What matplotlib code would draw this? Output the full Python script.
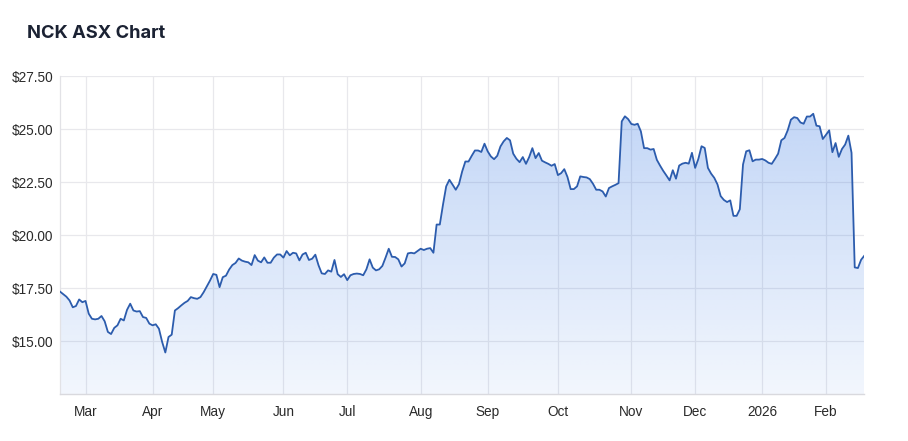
import numpy as np
import pandas as pd
import matplotlib
matplotlib.use("Agg")
import matplotlib.pyplot as plt
from matplotlib.patches import Polygon

# ---------------- data ----------------
start_date = "2025-02-19"
end_date = "2026-02-18"
holidays = ["2025-04-18", "2025-04-21", "2025-04-25", "2025-06-09",
            "2025-12-25", "2025-12-26", "2026-01-01", "2026-01-26"]

prices = [
    17.34, 17.22, 17.10, 16.92, 16.60, 16.66, 16.97, 16.84, 16.90, 16.30,
    16.06, 16.03, 16.06, 16.19, 15.94, 15.44, 15.34, 15.63, 15.75, 16.06,
    15.98, 16.48, 16.77, 16.45, 16.40, 16.42, 16.14, 16.10, 15.83, 15.75,
    15.80, 15.59, 14.97, 14.47, 15.20, 15.31, 16.45, 16.56, 16.69, 16.81,
    16.90, 17.08, 17.03, 17.00, 17.08, 17.31, 17.59, 17.86, 18.17, 18.13,
    17.55, 18.02, 18.09, 18.38, 18.59, 18.69, 18.90, 18.80, 18.75, 18.72,
    18.59, 19.06, 18.80, 18.72, 18.95, 18.70, 18.70, 18.94, 19.09, 19.09,
    18.94, 19.25, 19.05, 19.17, 19.14, 18.81, 19.09, 19.17, 18.83, 18.89,
    19.08, 18.58, 18.20, 18.17, 18.34, 18.28, 18.83, 18.16, 18.03, 18.16,
    17.88, 18.11, 18.17, 18.19, 18.17, 18.11, 18.39, 18.86, 18.47, 18.34,
    18.39, 18.55, 18.94, 19.36, 18.98, 18.97, 18.86, 18.52, 18.67, 19.14,
    19.17, 19.14, 19.25, 19.36, 19.30, 19.36, 19.39, 19.17, 20.50, 20.50,
    21.44, 22.30, 22.61, 22.38, 22.14, 22.40, 23.00, 23.47, 23.47, 23.74,
    23.99, 23.99, 23.92, 24.31, 23.95, 23.71, 23.58, 23.74, 24.18, 24.42,
    24.58, 24.47, 23.84, 23.60, 23.44, 23.68, 23.36, 23.68, 24.10, 23.63,
    23.87, 23.51, 23.43, 23.36, 23.27, 23.35, 22.83, 22.92, 23.11, 22.74,
    22.17, 22.17, 22.30, 22.77, 22.74, 22.72, 22.64, 22.42, 22.14, 22.14,
    22.06, 21.82, 22.22, 22.30, 22.37, 22.45, 25.36, 25.60, 25.47, 25.24,
    25.20, 25.25, 24.89, 24.10, 24.10, 24.03, 24.06, 23.55, 23.28, 23.03,
    22.81, 22.58, 23.06, 22.66, 23.28, 23.37, 23.41, 23.37, 23.88, 23.17,
    23.59, 24.19, 24.11, 23.17, 22.90, 22.70, 22.39, 21.84, 21.66, 21.56,
    21.64, 20.91, 20.91, 21.22, 23.33, 23.95, 24.00, 23.48, 23.56, 23.56,
    23.59, 23.52, 23.41, 23.36, 23.59, 23.84, 24.47, 24.58, 24.94, 25.44,
    25.56, 25.52, 25.31, 25.25, 25.59, 25.59, 25.72, 25.16, 25.13, 24.53,
    24.73, 24.94, 23.91, 24.34, 23.69, 24.06, 24.27, 24.69, 23.88, 18.48,
    18.45, 18.84, 19.03,
]

y_ticks = [15.0, 17.5, 20.0, 22.5, 25.0, 27.5]
title = "NCK ASX Chart"

# ---------------- derived ----------------
dates = pd.bdate_range(start_date, end_date)
dates = dates[~dates.isin(pd.to_datetime(holidays))]
n = min(len(dates), len(prices))
dates = dates[:n]
y = np.array(prices[:n])
x = np.arange(n)

tick_pos, tick_lab = [], []
for i in range(1, n):
    if dates[i].month != dates[i - 1].month:
        tick_pos.append(i)
        tick_lab.append(str(dates[i].year) if dates[i].month == 1 else dates[i].strftime("%b"))

# ---------------- plot ----------------
fig = plt.figure(figsize=(9.08, 4.41), dpi=100)
ax = fig.add_axes([60 / 908, 1 - 394.3 / 441, 804.3 / 908, 318.3 / 441])

ymin, ymax = 12.5, 27.5
ax.set_xlim(0, n - 1)
ax.set_ylim(ymin, ymax)

# grid
grid_c = "#e8e8ec"
for t in y_ticks:
    ax.axhline(t, color=grid_c, lw=0.9, zorder=0)
for p in tick_pos:
    ax.axvline(p, color=grid_c, lw=0.9, zorder=0)

# gradient fill
base = np.array([40, 110, 225]) / 255.0
H = 300
alpha = np.linspace(0.06, 0.31, H)[:, None]
img = np.zeros((H, 2, 4))
img[..., :3] = base
img[..., 3] = alpha
im = ax.imshow(img, extent=[0, n - 1, ymin, ymax], origin="lower",
               aspect="auto", zorder=1, interpolation="bilinear")
verts = np.vstack([[0, ymin], np.column_stack([x, y]), [n - 1, ymin]])
poly = Polygon(verts, closed=True, facecolor="none", edgecolor="none",
               transform=ax.transData)
ax.add_patch(poly)
im.set_clip_path(poly)

ax.plot(x, y, color="#2c5cad", lw=1.3, zorder=3, solid_joinstyle="round")

# spines
for s in ["top", "right"]:
    ax.spines[s].set_visible(False)
ax.spines["left"].set_color("#e2e2e6")
ax.spines["left"].set_linewidth(0.9)
ax.spines["bottom"].set_color("#d9d9de")
ax.spines["bottom"].set_linewidth(1.0)

tick_font = "Liberation Sans"
ax.set_yticks(y_ticks)
ax.set_yticklabels([f"${v:.2f}" for v in y_ticks], fontsize=9.8,
                   color="#2a2a2a", family=tick_font)
ax.set_xticks(tick_pos)
ax.set_xticklabels(tick_lab, fontsize=9.8, color="#2a2a2a", family=tick_font)
ax.tick_params(axis="both", length=0)
ax.tick_params(axis="y", pad=5)
ax.tick_params(axis="x", pad=8)

fig.text(27 / 908, 1 - 38 / 441, title, fontsize=13.2, fontweight="bold",
         color="#1b2233", family="Inter", va="baseline", ha="left")

fig.savefig("out.png", dpi=100)
